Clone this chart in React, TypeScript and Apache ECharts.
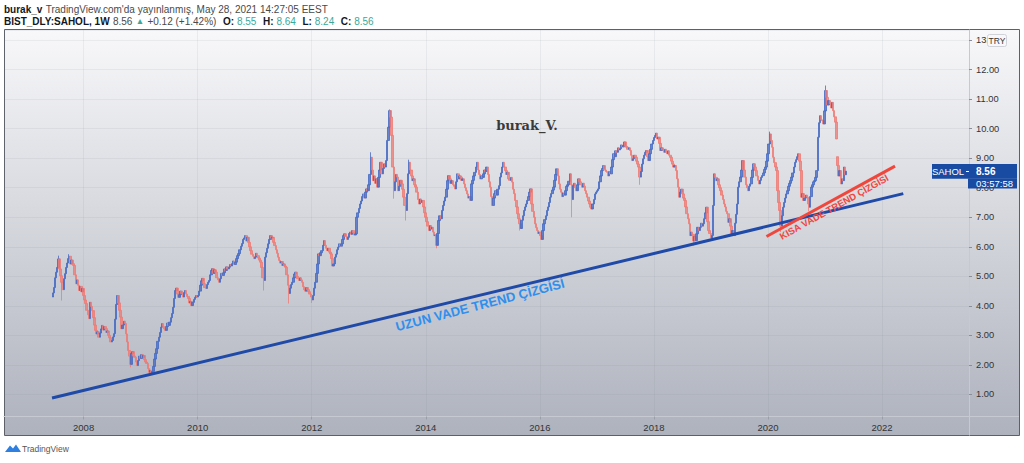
import React, { useEffect, useRef } from "react";
import * as echarts from "echarts";

// ---- data (weekly closes) ----
const START_UTC = Date.UTC(2007, 5, 18); // first weekly candle
const FIRST_OPEN = 4.3;

const w2007 = [4.44, 4.62, 4.95, 5.14, 5.3, 5.59, 5.25, 5.02, 4.8, 4.55, 4.92, 5.09, 5.3, 5.45, 5.6, 5.68, 5.42, 5.55, 5.43, 5.37, 5.05, 4.75, 4.88, 4.7, 4.52, 4.66, 4.48, 4.59, 4.35];
const w2008 = [4.2, 4.08, 3.85, 3.7, 3.57, 4.12, 3.98, 3.84, 3.6, 3.35, 3.17, 3.05, 3.12, 2.94, 3.08, 3.22, 3.34, 3.18, 3.3, 3.23, 3.1, 3.15, 3.0, 2.92, 2.78, 2.83, 2.95, 3.06, 3.55, 4.05, 4.35, 4.1, 3.85, 3.62, 3.23, 3.35, 3.48, 3.4, 3.05, 2.78, 2.49, 2.3, 2.02, 2.39, 2.45, 2.3, 2.26, 2.1, 1.98, 2.15, 2.3, 2.22];
const w2009 = [2.35, 2.25, 2.32, 2.18, 2.1, 2.05, 1.88, 1.75, 1.82, 1.72, 1.78, 1.95, 2.2, 2.39, 2.55, 2.8, 2.94, 3.1, 3.28, 3.4, 3.3, 3.22, 3.17, 3.3, 3.42, 3.34, 3.45, 3.6, 3.74, 3.95, 4.25, 4.52, 4.6, 4.4, 4.29, 4.38, 4.5, 4.42, 4.3, 4.45, 4.52, 4.4, 4.32, 4.25, 4.1, 4.15, 4.01, 4.12, 4.22, 4.29, 4.35, 4.3];
const w2010 = [4.35, 4.5, 4.7, 4.85, 4.93, 4.75, 4.62, 4.59, 4.72, 4.8, 4.86, 5.05, 5.2, 5.26, 5.1, 5.22, 5.14, 4.95, 4.88, 4.8, 4.92, 5.1, 5.03, 5.12, 5.25, 5.2, 5.32, 5.25, 5.31, 5.4, 5.35, 5.43, 5.52, 5.4, 5.48, 5.6, 5.7, 5.77, 5.9, 6.02, 6.11, 6.25, 6.3, 6.38, 6.2, 6.32, 6.15, 6.0, 5.87, 5.75, 5.68, 5.6];
const w2011 = [5.65, 5.78, 5.7, 5.62, 5.55, 5.48, 5.3, 4.95, 4.86, 5.65, 5.8, 5.95, 6.1, 6.25, 6.38, 6.3, 6.32, 6.15, 6.04, 5.9, 5.78, 5.65, 5.54, 5.45, 5.5, 5.37, 5.42, 5.35, 5.31, 5.05, 4.7, 4.42, 4.6, 4.72, 4.8, 4.95, 5.08, 5.14, 5.0, 4.92, 4.86, 4.95, 4.88, 4.8, 4.65, 4.55, 4.5, 4.62, 4.55, 4.48, 4.4, 4.3];
const w2012 = [4.2, 4.35, 4.6, 4.8, 5.1, 5.42, 5.76, 5.7, 5.8, 5.87, 6.05, 6.21, 6.05, 5.95, 5.87, 5.95, 5.82, 5.76, 5.6, 5.35, 5.42, 5.65, 5.75, 5.9, 5.99, 6.1, 6.02, 6.1, 6.25, 6.38, 6.44, 6.35, 6.25, 6.32, 6.45, 6.5, 6.42, 6.55, 6.48, 6.4, 6.44, 7.0, 7.15, 7.3, 7.45, 7.55, 7.7, 7.79, 7.65, 7.85, 7.96, 7.9];
const w2013 = [8.1, 8.45, 9.03, 8.6, 8.24, 8.4, 8.15, 8.3, 8.02, 8.35, 8.6, 8.86, 8.47, 8.65, 8.81, 8.7, 8.92, 9.6, 10.05, 10.61, 10.39, 9.77, 8.7, 7.9, 8.2, 8.45, 8.36, 7.9, 8.05, 8.25, 8.13, 7.95, 7.68, 7.4, 7.23, 7.8, 8.47, 8.86, 8.6, 8.4, 8.24, 8.3, 8.1, 8.02, 7.85, 7.6, 7.45, 7.62, 7.5, 7.57, 7.35, 7.15];
const w2014 = [7.0, 6.85, 6.7, 6.55, 6.72, 6.6, 6.66, 6.5, 6.38, 6.4, 6.05, 6.45, 6.89, 7.05, 6.95, 7.23, 7.4, 7.55, 7.68, 7.95, 8.24, 8.41, 8.3, 8.15, 8.24, 8.1, 8.05, 7.96, 8.2, 8.47, 8.3, 8.4, 8.36, 8.25, 8.3, 8.13, 8.0, 7.9, 7.79, 7.65, 7.7, 7.57, 8.13, 8.25, 8.4, 8.52, 8.7, 8.86, 8.6, 8.45, 8.3, 8.4];
const w2015 = [8.35, 8.47, 8.6, 8.55, 8.7, 8.45, 8.2, 8.02, 7.7, 7.4, 7.65, 7.8, 7.9, 7.75, 7.95, 8.07, 8.36, 8.5, 8.7, 8.86, 8.7, 8.58, 8.45, 8.52, 8.3, 8.25, 8.35, 8.19, 7.95, 7.8, 7.57, 7.35, 7.12, 6.95, 6.78, 6.62, 6.9, 7.05, 7.23, 7.35, 7.45, 7.57, 7.7, 7.85, 7.96, 7.45, 7.2, 7.0, 6.78, 6.65, 6.55, 6.45];
const w2016 = [6.5, 6.38, 6.25, 6.55, 6.78, 6.92, 7.05, 7.23, 7.35, 7.5, 7.68, 7.8, 7.92, 8.02, 8.25, 8.45, 8.64, 8.4, 8.13, 7.95, 7.85, 7.7, 7.82, 7.75, 7.9, 8.05, 8.1, 8.22, 8.47, 8.1, 7.6, 8.07, 8.15, 8.0, 7.9, 8.1, 8.3, 8.2, 8.1, 8.02, 8.15, 8.05, 7.9, 7.8, 7.68, 7.55, 7.45, 7.34, 7.28, 7.45, 7.6, 7.79];
const w2017 = [7.85, 7.9, 7.96, 8.2, 8.4, 8.58, 8.65, 8.75, 8.6, 8.55, 8.52, 8.4, 8.55, 8.47, 8.7, 8.95, 9.15, 9.05, 9.25, 9.2, 9.35, 9.28, 9.32, 9.45, 9.38, 9.43, 9.55, 9.4, 9.37, 9.3, 9.35, 9.26, 9.1, 8.92, 8.98, 9.1, 9.03, 8.9, 8.8, 8.7, 8.36, 8.55, 8.8, 8.98, 9.1, 9.2, 9.26, 9.05, 8.92, 9.15, 9.3, 9.48];
const w2018 = [9.6, 9.7, 9.77, 9.85, 9.65, 9.71, 9.5, 9.26, 9.35, 9.28, 9.2, 9.3, 9.22, 9.15, 9.25, 9.1, 9.03, 8.9, 8.8, 8.7, 8.75, 8.58, 8.3, 8.02, 7.68, 7.85, 7.95, 7.79, 7.65, 7.57, 7.35, 7.12, 6.95, 6.78, 6.38, 6.5, 6.42, 6.2, 6.35, 6.21, 6.44, 6.66, 6.55, 6.66, 6.8, 6.7, 6.78, 6.95, 7.15, 7.34, 6.85, 6.55];
const w2019 = [6.45, 6.3, 6.38, 7.4, 8.47, 8.35, 8.24, 8.3, 8.1, 8.0, 7.9, 7.75, 7.6, 7.45, 7.35, 7.2, 7.12, 6.83, 6.95, 6.7, 6.44, 6.55, 6.38, 6.8, 7.1, 7.45, 8.02, 8.2, 8.36, 8.6, 8.92, 8.6, 8.36, 8.1, 8.0, 7.9, 8.05, 8.13, 8.35, 8.6, 8.81, 8.7, 8.58, 8.4, 8.25, 8.13, 8.25, 8.35, 8.41, 8.5, 8.62, 8.7];
const w2020 = [8.9, 9.15, 9.48, 9.82, 9.6, 9.37, 9.03, 8.85, 8.7, 8.58, 7.9, 7.5, 7.23, 6.7, 7.05, 7.34, 7.5, 7.65, 7.79, 7.9, 8.05, 8.15, 8.24, 8.36, 8.5, 8.7, 8.86, 8.95, 9.05, 9.15, 8.9, 8.58, 7.68, 7.8, 7.57, 7.65, 7.75, 7.68, 7.45, 7.34, 7.7, 8.02, 8.1, 8.2, 8.24, 8.35, 8.58, 9.71, 10.2, 10.44, 10.3, 10.27];
const w2021 = [10.16, 10.6, 11.29, 11.06, 10.8, 10.95, 10.84, 10.7, 10.89, 10.61, 10.4, 10.22, 9.65, 8.75, 8.4, 8.58, 8.13, 8.3, 8.24, 8.7, 8.44, 8.56];

// notable wicks [weekIndex, price]
const lowWicks: [number, number][] = [[8, 4.18], [71, 1.92], [193, 4.52], [216, 4.08], [237, 4.1], [312, 7.63], [323, 6.89], [351, 5.95], [427, 6.55], [475, 7.0], [537, 8.1], [586, 6.04], [666, 6.5], [692, 7.2]];
const highWicks: [number, number][] = [[5, 5.7], [15, 5.75], [291, 9.2], [308, 10.65], [326, 8.95], [656, 9.9], [707, 11.46]];
// weeks that opened with a gap [weekIndex, open]
const gapOpens: [number, number][] = [[718, 9.05]];

const longTrend: [number, number][] = [[2007.446, 0.88], [2022.373, 7.8]];
const shortTrend: [number, number][] = [[2019.974, 6.35], [2022.228, 8.73]];

const X_MIN = 2006.604;
const X_MAX = 2023.525;
const Y_MIN = 0.255;
const Y_MAX = 13.34;

const weekToYear = (i: number) => {
  const t = START_UTC + i * 7 * 86400000;
  const y = new Date(t).getUTCFullYear();
  const a = Date.UTC(y, 0, 1);
  const b = Date.UTC(y + 1, 0, 1);
  return y + (t - a) / (b - a);
};

export default function App() {
  const ref = useRef<HTMLDivElement>(null);
  useEffect(() => {
    if (!ref.current) return;
    const chart = echarts.init(ref.current, null, { renderer: "svg" });
    const closes = [...w2007, ...w2008, ...w2009, ...w2010, ...w2011, ...w2012, ...w2013, ...w2014, ...w2015, ...w2016, ...w2017, ...w2018, ...w2019, ...w2020, ...w2021];
    const lowMap = new Map(lowWicks);
    const highMap = new Map(highWicks);
    const gapMap = new Map(gapOpens);
    const candles = closes.map((c, i) => {
      const o = gapMap.has(i) ? (gapMap.get(i) as number) : i === 0 ? FIRST_OPEN : closes[i - 1];
      const lo = Math.min(o, c, lowMap.has(i) ? (lowMap.get(i) as number) : Infinity);
      const hi = Math.max(o, c, highMap.has(i) ? (highMap.get(i) as number) : -Infinity);
      return [weekToYear(i), o, c, lo, hi];
    });

    const font = "'Liberation Sans', Arial, sans-serif";
    const teal = "#3aa99b";
    const badge = "#1a4ba3";

    chart.setOption({
      animation: false,
      backgroundColor: "#ffffff",
      grid: { left: 4, right: 55, top: 30, bottom: 46.5 },
      xAxis: {
        type: "value",
        min: X_MIN,
        max: X_MAX,
        splitNumber: 8,
        axisLine: { show: true, lineStyle: { color: "#c6c9d0", width: 1 } },
        axisTick: { show: true, length: 3, lineStyle: { color: "#9a9ea8" } },
        axisLabel: {
          margin: 6,
          color: "#333333",
          fontSize: 9.5,
          fontFamily: font,
          showMinLabel: false,
          showMaxLabel: false,
          formatter: (v: number) => {
            const r = Math.round(v);
            return Math.abs(v - r) < 1e-6 && r % 2 === 0 ? String(r) : "";
          },
        },
        splitLine: { show: true, lineStyle: { color: "rgba(120,125,140,0.10)" } },
      },
      yAxis: {
        type: "value",
        position: "right",
        min: Y_MIN,
        max: Y_MAX,
        splitNumber: 13,
        scale: true,
        axisLine: { show: true, lineStyle: { color: "#c6c9d0", width: 1 } },
        axisTick: { show: true, length: 3, lineStyle: { color: "#8a8e98" } },
        axisLabel: {
          margin: 7,
          color: "#333333",
          fontSize: 9.3,
          fontFamily: font,
          showMinLabel: false,
          showMaxLabel: false,
          formatter: (v: number) => {
            const r = Math.round(v);
            return Math.abs(v - r) < 1e-6 ? r.toFixed(2) : "";
          },
        },
        splitLine: { show: true, lineStyle: { color: "rgba(120,125,140,0.10)" } },
      },
      series: [
        {
          type: "candlestick",
          large: false,
          data: candles,
          barWidth: 2,
          itemStyle: {
            color: "#4469c3",
            color0: "#ef7a73",
            borderColor: "#4469c3",
            borderColor0: "#ef7a73",
            borderWidth: 1,
            opacity: 0.78,
          },
          silent: true,
          z: 3,
        },
        {
          type: "line",
          data: longTrend,
          symbol: "none",
          silent: true,
          lineStyle: { color: "#1f4aa8", width: 3 },
          z: 5,
        },
        {
          type: "line",
          data: shortTrend,
          symbol: "none",
          silent: true,
          lineStyle: { color: "#f0473d", width: 3 },
          z: 5,
        },
      ],
      graphic: [
        {
          type: "rect",
          z: -10,
          silent: true,
          shape: { x: 4.5, y: 29.5, width: 1015, height: 406 },
          style: {
            fill: new echarts.graphic.LinearGradient(0, 0, 0, 1, [
              { offset: 0, color: "#f8f8fa" },
              { offset: 1, color: "#aeb2bd" },
            ]),
            stroke: "#5d6068",
            lineWidth: 1,
          },
        },
        {
          type: "line",
          silent: true,
          shape: { x1: 969.5, y1: 416.5, x2: 969.5, y2: 435.5 },
          style: { stroke: "#c6c9d0", lineWidth: 1 },
        },
        {
          type: "line",
          silent: true,
          shape: { x1: 969.5, y1: 416.5, x2: 1019, y2: 416.5 },
          style: { stroke: "#c6c9d0", lineWidth: 1 },
        },
        {
          type: "text",
          x: 4,
          y: 9,
          style: {
            text: "{b|burak_v} {n|TradingView.com'da yayınlanmış, May 28, 2021 14:27:05 EEST}",
            verticalAlign: "middle",
            rich: {
              b: { fontSize: 10, fontWeight: "bold", fill: "#131722", fontFamily: font },
              n: { fontSize: 10, fill: "#4a4a4a", fontFamily: font },
            },
          },
        },
        {
          type: "text",
          x: 4,
          y: 21,
          style: {
            text: "{b|BIST_DLY:SAHOL, 1W} {n|8.56} {g|▲} {n|+0.12 (+1.42%)}  {b|O:}{t| 8.55}  {b|H:}{t| 8.64}  {b|L:}{t| 8.24}  {b|C:}{t| 8.56}",
            verticalAlign: "middle",
            rich: {
              b: { fontSize: 10, fontWeight: "bold", fill: "#131722", fontFamily: font },
              n: { fontSize: 10, fill: "#4a4a4a", fontFamily: font },
              g: { fontSize: 8.5, fill: teal, fontFamily: font },
              t: { fontSize: 10, fill: teal, fontFamily: font },
            },
          },
        },
        {
          type: "text",
          x: 527,
          y: 125,
          z: 10,
          style: {
            text: "burak_V.",
            fontFamily: "'DejaVu Serif', serif",
            fontWeight: "bold",
            fontSize: 13,
            fill: "#3a3a3a",
            align: "center",
            verticalAlign: "middle",
          },
        },
        {
          type: "text",
          x: 480,
          y: 305,
          rotation: (14.6 * Math.PI) / 180,
          z: 10,
          style: {
            text: "UZUN VADE TREND ÇİZGİSİ",
            fontFamily: font,
            fontWeight: "bold",
            fontSize: 13,
            fill: "#2f8fee",
            align: "center",
            verticalAlign: "middle",
          },
        },
        {
          type: "text",
          x: 834,
          y: 207,
          rotation: (29.2 * Math.PI) / 180,
          z: 10,
          style: {
            text: "KISA VADE TREND ÇİZGİSİ",
            fontFamily: font,
            fontWeight: "bold",
            fontSize: 9.5,
            fill: "#f0473d",
            align: "center",
            verticalAlign: "middle",
          },
        },
        {
          type: "rect",
          z: 20,
          shape: { x: 987.5, y: 34.5, width: 19, height: 12, r: 2 },
          style: { fill: "#f8f8fa", stroke: "#cfd2d8", lineWidth: 1 },
        },
        {
          type: "text",
          x: 997,
          y: 40.5,
          z: 21,
          style: { text: "TRY", fontFamily: font, fontSize: 8.5, fill: "#333", align: "center", verticalAlign: "middle" },
        },
        {
          type: "rect",
          z: 20,
          shape: { x: 932, y: 164, width: 85, height: 14.7 },
          style: { fill: badge },
        },
        {
          type: "rect",
          z: 20,
          shape: { x: 968, y: 178.5, width: 49, height: 10 },
          style: { fill: badge },
        },
        {
          type: "text",
          x: 948,
          y: 171.5,
          z: 21,
          style: { text: "SAHOL", fontFamily: font, fontSize: 9.5, fill: "#ffffff", align: "center", verticalAlign: "middle" },
        },
        {
          type: "line",
          z: 21,
          shape: { x1: 966, y1: 171.5, x2: 969, y2: 171.5 },
          style: { stroke: "#ffffff", lineWidth: 1 },
        },
        {
          type: "text",
          x: 976,
          y: 171.5,
          z: 21,
          style: { text: "8.56", fontFamily: font, fontSize: 10, fontWeight: "bold", fill: "#ffffff", align: "left", verticalAlign: "middle" },
        },
        {
          type: "text",
          x: 976,
          y: 183.5,
          z: 21,
          style: { text: "03:57:58", fontFamily: font, fontSize: 9.5, fill: "#ffffff", align: "left", verticalAlign: "middle" },
        },
        {
          type: "polygon",
          z: 5,
          shape: { points: [[5, 452], [10, 445.5], [13, 448.5], [16, 444.5], [21, 452]] },
          style: { fill: "#2f7fe0" },
        },
        {
          type: "text",
          x: 22,
          y: 448.5,
          style: { text: "TradingView", fontFamily: font, fontSize: 8.5, fill: "#555", verticalAlign: "middle" },
        },
      ],
    });
    return () => chart.dispose();
  }, []);
  return <div ref={ref} style={{ position: "absolute", left: 0, top: 0, width: 1024, height: 463 }} />;
}
